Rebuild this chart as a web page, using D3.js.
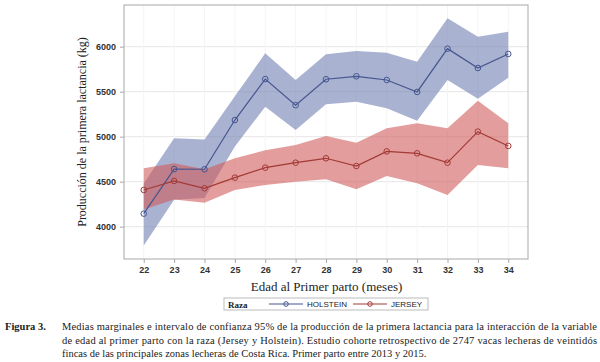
<!DOCTYPE html>
<html>
<head>
<meta charset="utf-8">
<script src="https://cdn.jsdelivr.net/npm/d3@7"></script>
<style>
  body { margin: 0; background: #fff; }
  svg { display: block; }
</style>
</head>
<body>
<svg id="chart" width="600" height="362"></svg>
<script>
// DATA
const ages = [22, 23, 24, 25, 26, 27, 28, 29, 30, 31, 32, 33, 34];
const holsteinMean  = [4145, 4640, 4638, 5185, 5640, 5350, 5638, 5671, 5630, 5497, 5978, 5763, 5919];
const holsteinLower = [3790, 4300, 4320, 4890, 5333, 5074, 5360, 5389, 5315, 5178, 5630, 5422, 5656];
const holsteinUpper = [4480, 4982, 4970, 5450, 5926, 5630, 5915, 5952, 5933, 5833, 6315, 6111, 6167];
const jerseyMean  = [4408, 4508, 4427, 4545, 4656, 4711, 4760, 4674, 4837, 4815, 4711, 5056, 4897];
const jerseyLower = [4190, 4303, 4267, 4408, 4463, 4500, 4526, 4415, 4563, 4482, 4352, 4686, 4649];
const jerseyUpper = [4649, 4704, 4637, 4760, 4848, 4908, 5008, 4933, 5093, 5148, 5093, 5400, 5148];
const yTicks = [4000, 4500, 5000, 5500, 6000];
const legendLabels = ['HOLSTEIN', 'JERSEY'];
const captionLines = [
  'Medias marginales e intervalo de confianza 95% de la producción de la primera lactancia para la interacción de la variable',
  'de edad al primer parto con la raza (Jersey y Holstein). Estudio cohorte retrospectivo de 2747 vacas lecheras de veintidós',
  'fincas de las principales zonas lecheras de Costa Rica. Primer parto entre 2013 y 2015.'
];

const series = [
  { name: legendLabels[0], mean: holsteinMean, lo: holsteinLower, hi: holsteinUpper,
    band: '#6f7eb3', line: '#46558f' },
  { name: legendLabels[1], mean: jerseyMean, lo: jerseyLower, hi: jerseyUpper,
    band: '#d05b5b', line: '#a33a35' }
];

const svg = d3.select('#chart');
const plot = { left: 124, top: 5, right: 528, bottom: 259 };

const x = d3.scaleLinear().domain([21.35, 34.65]).range([plot.left, plot.right]);
const y = d3.scaleLinear().domain([3641, 6463]).range([plot.bottom, plot.top]);

// gridlines
svg.append('g').selectAll('line').data(yTicks).enter().append('line')
  .attr('x1', plot.left).attr('x2', plot.right)
  .attr('y1', d => y(d)).attr('y2', d => y(d))
  .attr('stroke', '#e6e6e6').attr('stroke-width', 1);
svg.append('g').selectAll('line').data(ages).enter().append('line')
  .attr('y1', plot.top).attr('y2', plot.bottom)
  .attr('x1', d => x(d)).attr('x2', d => x(d))
  .attr('stroke', '#f4f4f4').attr('stroke-width', 1);

// bands, lines, markers
const area = d3.area().x((d, i) => x(ages[i])).y0(d => y(d[0])).y1(d => y(d[1]));
const line = d3.line().x((d, i) => x(ages[i])).y(d => y(d));

series.forEach(s => {
  svg.append('path')
    .datum(s.lo.map((v, i) => [v, s.hi[i]]))
    .attr('d', area)
    .attr('fill', s.band)
    .attr('fill-opacity', 0.6);
});
series.forEach(s => {
  svg.append('path')
    .datum(s.mean)
    .attr('d', line)
    .attr('fill', 'none')
    .attr('stroke', s.line)
    .attr('stroke-width', 1.2);
  svg.append('g').selectAll('circle').data(s.mean).enter().append('circle')
    .attr('cx', (d, i) => x(ages[i]))
    .attr('cy', d => y(d))
    .attr('r', 2.8)
    .attr('fill', 'none')
    .attr('stroke', s.line)
    .attr('stroke-width', 1);
});

// frame
svg.append('rect')
  .attr('x', plot.left).attr('y', plot.top)
  .attr('width', plot.right - plot.left).attr('height', plot.bottom - plot.top)
  .attr('fill', 'none').attr('stroke', '#a8a8a8').attr('stroke-width', 1);

// axes
const xAxis = svg.append('g')
  .attr('transform', `translate(0,${plot.bottom})`)
  .call(d3.axisBottom(x).tickValues(ages).tickFormat(d3.format('d')).tickSize(4).tickPadding(4));
const yAxis = svg.append('g')
  .attr('transform', `translate(${plot.left},0)`)
  .call(d3.axisLeft(y).tickValues(yTicks).tickFormat(d3.format('d')).tickSize(4).tickPadding(4));
[xAxis, yAxis].forEach(a => {
  a.select('.domain').remove();
  a.selectAll('.tick line').attr('stroke', '#a8a8a8');
  a.selectAll('.tick text')
    .attr('fill', '#333')
    .style('font-family', 'Arial, "Liberation Sans", sans-serif')
    .style('font-size', '9px')
    .style('font-weight', 'bold');
});

// axis titles
svg.append('text')
  .attr('x', (plot.left + plot.right) / 2 + 0.5).attr('y', 291)
  .attr('text-anchor', 'middle')
  .style('font-family', '"Liberation Serif", "Times New Roman", serif')
  .style('font-size', '13px')
  .attr('fill', '#222')
  .text('Edad al Primer parto (meses)');
svg.append('text')
  .attr('transform', `translate(86,${(plot.top + plot.bottom) / 2}) rotate(-90)`)
  .attr('text-anchor', 'middle')
  .style('font-family', '"Liberation Serif", "Times New Roman", serif')
  .style('font-size', '12px')
  .attr('fill', '#222')
  .text('Producción de la primera lactancia (kg)');

// legend
const lg = svg.append('g');
lg.append('rect').attr('x', 224).attr('y', 298).attr('width', 204).attr('height', 12)
  .attr('fill', '#fff').attr('stroke', '#bbb').attr('stroke-width', 1);
lg.append('text').attr('x', 228).attr('y', 307.5)
  .style('font-family', '"Liberation Serif", serif').style('font-size', '9px')
  .style('font-weight', 'bold').attr('fill', '#222').text('Raza');
const legendX = [269, 353];
series.forEach((s, i) => {
  const x0 = legendX[i];
  lg.append('line').attr('x1', x0).attr('x2', x0 + 34).attr('y1', 304).attr('y2', 304)
    .attr('stroke', s.line).attr('stroke-width', 1.2);
  lg.append('circle').attr('cx', x0 + 17).attr('cy', 304).attr('r', 2.3)
    .attr('fill', 'none').attr('stroke', s.line).attr('stroke-width', 1);
  lg.append('text').attr('x', x0 + 38).attr('y', 307.3)
    .style('font-family', 'Arial, "Liberation Sans", sans-serif').style('font-size', '8px')
    .attr('fill', '#222').text(s.name);
});

// caption
const cap = svg.append('g')
  .style('font-family', '"Liberation Serif", "Times New Roman", serif')
  .style('font-size', '10.5px')
  .attr('fill', '#222');
cap.append('text').attr('x', 5).attr('y', 330).style('font-weight', 'bold').text('Figura 3.');
captionLines.forEach((t, i) => {
  const tx = cap.append('text').attr('x', 62).attr('y', 330 + i * 13.7).text(t);
  if (i < captionLines.length - 1) {
    tx.attr('textLength', 535).attr('lengthAdjust', 'spacing');
  }
});
</script>
</body>
</html>
